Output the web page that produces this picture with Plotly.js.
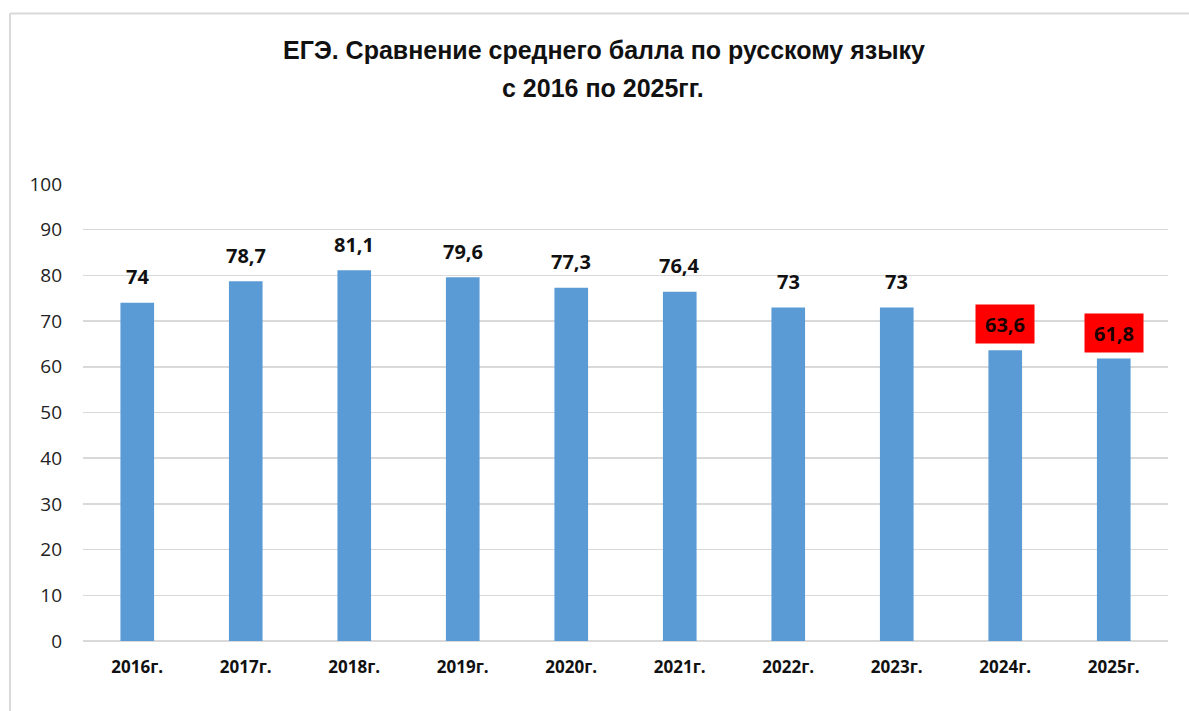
<!DOCTYPE html>
<html><head><meta charset="utf-8">
<script src="https://cdn.plot.ly/plotly-3.0.1.min.js"></script>
<style>html,body{margin:0;padding:0;background:#fff;} #chart{width:1189px;height:711px;}</style>
</head><body>
<div id="chart"></div>
<script>
const categories = ["2016г.","2017г.","2018г.","2019г.","2020г.","2021г.","2022г.","2023г.","2024г.","2025г."];
const scores = [74, 78.7, 81.1, 79.6, 77.3, 76.4, 73, 73, 63.6, 61.8];
const highlighted = [false,false,false,false,false,false,false,false,true,true];
const yTicks = [0,10,20,30,40,50,60,70,80,90,100];
const titleLines = ["ЕГЭ. Сравнение среднего балла по русскому языку", "с 2016 по 2025гг."];

const fmt = v => String(v).replace('.', ',');
const labelFont = 'Open Sans, DejaVu Sans, sans-serif';
const titleFont = 'Liberation Sans, Arial, sans-serif';

const annotations = categories.map((c, i) => {
  const a = {
    x: c, y: scores[i], xref: 'x', yref: 'y',
    text: '<b>' + fmt(scores[i]) + '</b>',
    showarrow: false, yanchor: 'middle', yshift: 26,
    font: {family: labelFont, size: 20, color: '#111'}
  };
  if (highlighted[i]) {
    a.bgcolor = '#ff0000';
    a.width = 54; a.height = 34; a.borderpad = 2;
    a.font = {family: labelFont, size: 20, color: '#1a0000'};
  }
  return a;
});

annotations.push({
  xref: 'paper', yref: 'paper', x: 0.479, y: 1.0 + (184 - 88) / 457,
  xanchor: 'center', yanchor: 'middle', showarrow: false,
  text: '<b>' + titleLines[1] + '</b>',
  font: {family: titleFont, size: 25, color: '#111'}
});

const trace = {
  type: 'bar', x: categories, y: scores,
  marker: {color: '#5b9bd5'},
  hoverinfo: 'x+y'
};

const layout = {
  width: 1189, height: 711,
  margin: {l: 83, r: 21, t: 184, b: 70},
  paper_bgcolor: '#fff', plot_bgcolor: '#fff',
  bargap: 0.69,
  showlegend: false,
  title: {
    text: '<b>' + titleLines[0] + '</b>',
    x: 0.508, xanchor: 'center', y: 1 - 50 / 711, yanchor: 'middle',
    font: {family: titleFont, size: 25, color: '#111'}
  },
  xaxis: {
    type: 'category', showgrid: false, zeroline: false, showline: false,
    ticks: '', tickfont: {family: labelFont, size: 17, color: '#111', weight: 'bold'},
    ticklabelstandoff: 14
  },
  yaxis: {
    range: [0, 100], tickvals: yTicks, ticktext: yTicks.map(String),
    showgrid: true, gridcolor: '#d9d9d9', gridwidth: 1.5,
    zeroline: true, zerolinecolor: '#d9d9d9', zerolinewidth: 1.5,
    showline: false, ticks: '',
    tickfont: {family: labelFont, size: 19, color: '#222'},
    ticklabelstandoff: 20, fixedrange: true
  },
  annotations: annotations,
  shapes: [
    {type: 'line', xref: 'paper', yref: 'paper', x0: -0.0673, x1: 1.03, y0: 1.373, y1: 1.373, line: {color: '#d9d9d9', width: 2}},
    {type: 'line', xref: 'paper', yref: 'paper', x0: -0.0673, x1: -0.0673, y0: 1.373, y1: -0.2, line: {color: '#d9d9d9', width: 2}}
  ]
};

Plotly.newPlot('chart', [trace], layout, {displayModeBar: false, staticPlot: true});
</script>
</body></html>
